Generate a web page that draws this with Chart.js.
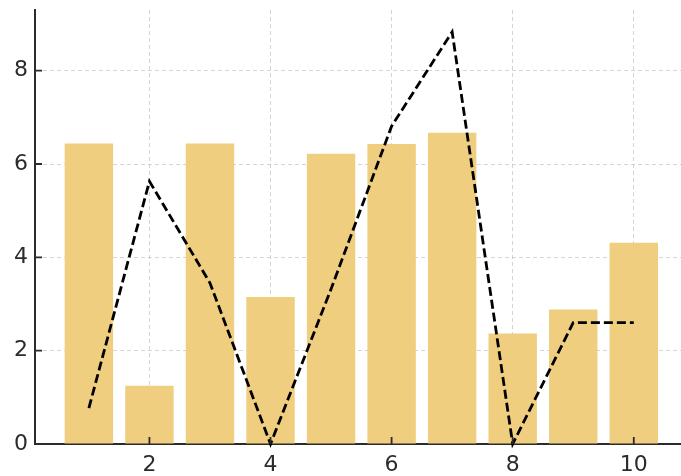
<!DOCTYPE html>
<html>
<head>
<meta charset="utf-8">
<script src="https://cdn.jsdelivr.net/npm/chart.js@4/dist/chart.umd.min.js"></script>
<style>
html,body{margin:0;padding:0;background:#fff;overflow:hidden;}
#wrap{width:681px;height:476px;position:relative;}
</style>
</head>
<body>
<div id="wrap"><canvas id="c" width="681" height="476"></canvas></div>
<script>
const xValues = [1, 2, 3, 4, 5, 6, 7, 8, 9, 10];
const barValues = [6.44, 1.25, 6.44, 3.15, 6.22, 6.43, 6.67, 2.37, 2.88, 4.31];
const lineValues = [0.77, 5.63, 3.45, 0.0, 3.32, 6.81, 8.83, 0.0, 2.6, 2.6];
const xTicks = [2, 4, 6, 8, 10];
const yTicks = [0, 2, 4, 6, 8];

const FONT = {family: '"DejaVu Sans", sans-serif', size: 22};
const AX = '#2b2b2b';
const GRID = 'rgba(176,176,176,0.55)';

const inwardTicks = {
  id: 'inwardTicks',
  afterDraw(chart) {
    const ctx = chart.ctx, x = chart.scales.x, y = chart.scales.y, a = chart.chartArea;
    ctx.save();
    ctx.strokeStyle = AX; ctx.lineWidth = 1.8;
    ctx.beginPath();
    xTicks.forEach(v => { const p = x.getPixelForValue(v); ctx.moveTo(p, a.bottom); ctx.lineTo(p, a.bottom - 7); });
    yTicks.forEach(v => { const p = y.getPixelForValue(v); ctx.moveTo(a.left, p); ctx.lineTo(a.left + 7, p); });
    ctx.stroke();
    ctx.restore();
  }
};

function noPad(s) { s.paddingTop = 0; s.paddingBottom = 0; s.paddingLeft = 0; s.paddingRight = 0; }

new Chart(document.getElementById('c'), {
  data: {
    datasets: [
      {
        type: 'line',
        data: xValues.map((x, i) => ({x, y: lineValues[i]})),
        borderColor: '#000000',
        borderWidth: 2.8,
        borderDash: [9, 4],
        pointRadius: 0,
        tension: 0,
        fill: false,
        order: 0,
        clip: false
      },
      {
        type: 'bar',
        data: xValues.map((x, i) => ({x, y: barValues[i]})),
        backgroundColor: 'rgb(240,206,128)',
        borderWidth: 0,
        barPercentage: 0.8,
        categoryPercentage: 1.0,
        order: 1
      }
    ]
  },
  options: {
    responsive: false,
    animation: false,
    layout: {padding: {top: 10, right: 0, bottom: 0, left: 0}},
    plugins: {legend: {display: false}, tooltip: {enabled: false}},
    scales: {
      x: {
        type: 'linear',
        offset: false,
        z: 1,
        min: 0.11,
        max: 10.78,
        afterBuildTicks: s => { s.ticks = xTicks.map(v => ({value: v})); },
        afterFit: s => { s.height = 32; noPad(s); },
        grid: {color: GRID, lineWidth: 1, drawTicks: false, offset: false},
        border: {display: true, color: AX, width: 2, dash: [4, 3]},
        ticks: {font: FONT, color: AX, padding: 8, maxRotation: 0, autoSkip: false}
      },
      y: {
        type: 'linear',
        z: 1,
        min: 0,
        max: 9.3,
        afterBuildTicks: s => { s.ticks = yTicks.map(v => ({value: v})); },
        afterFit: s => { s.width = 35; noPad(s); },
        grid: {color: GRID, lineWidth: 1, drawTicks: false},
        border: {display: true, color: AX, width: 2, dash: [4, 3]},
        ticks: {font: FONT, color: AX, padding: 7, autoSkip: false}
      }
    }
  },
  plugins: [inwardTicks]
});
</script>
</body>
</html>
